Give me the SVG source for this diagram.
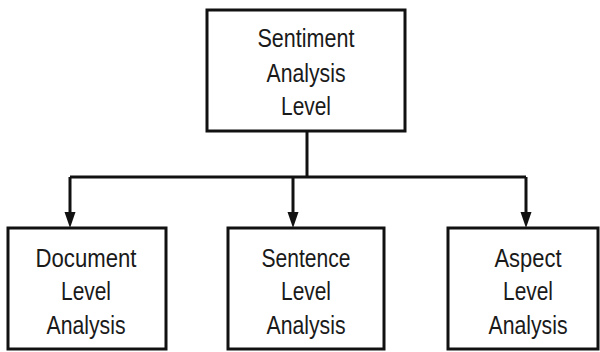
<svg xmlns="http://www.w3.org/2000/svg" width="600" height="352" viewBox="0 0 600 352">
<defs>
<style>
.box{fill:#fff;stroke:#111;stroke-width:3}
.conn{fill:none;stroke:#111;stroke-width:3}
text{font-family:"Liberation Sans",Arial,sans-serif;font-size:26px;fill:#1a1a1a;text-anchor:middle}
</style>
<marker id="arr" markerUnits="userSpaceOnUse" markerWidth="12" markerHeight="16" viewBox="0 0 12 16" refX="6" refY="16" orient="auto-start-reverse">
<path d="M0,0 L12,0 L6,16 Z" fill="#111" transform="rotate(0)"/>
</marker>
</defs>
<rect width="600" height="352" fill="#fff"/>
<g id="connectors">
<path class="conn" d="M307,131 V177"/>
<path class="conn" d="M70,177 H526"/>
<line class="conn" x1="70" y1="177" x2="70" y2="213"/>
<line class="conn" x1="293" y1="177" x2="293" y2="213"/>
<line class="conn" x1="526" y1="177" x2="526" y2="213"/>
<path d="M64.5,212 L75.5,212 L70,228 Z" fill="#111"/>
<path d="M287.5,212 L298.5,212 L293,228 Z" fill="#111"/>
<path d="M520.5,212 L531.5,212 L526,228 Z" fill="#111"/>
</g>
<g id="root">
<rect class="box" x="207" y="10" width="198" height="121"/>
<text x="306" y="47" textLength="97" lengthAdjust="spacingAndGlyphs">Sentiment</text>
<text x="306" y="82" textLength="79" lengthAdjust="spacingAndGlyphs">Analysis</text>
<text x="306" y="115" textLength="50" lengthAdjust="spacingAndGlyphs">Level</text>
</g>
<g id="document">
<rect class="box" x="8" y="228" width="158" height="121"/>
<text x="86" y="267" textLength="101" lengthAdjust="spacingAndGlyphs">Document</text>
<text x="86" y="300" textLength="50" lengthAdjust="spacingAndGlyphs">Level</text>
<text x="86" y="334" textLength="79" lengthAdjust="spacingAndGlyphs">Analysis</text>
</g>
<g id="sentence">
<rect class="box" x="228" y="228" width="156" height="121"/>
<text x="306" y="267" textLength="89" lengthAdjust="spacingAndGlyphs">Sentence</text>
<text x="306" y="300" textLength="50" lengthAdjust="spacingAndGlyphs">Level</text>
<text x="306" y="334" textLength="79" lengthAdjust="spacingAndGlyphs">Analysis</text>
</g>
<g id="aspect">
<rect class="box" x="448" y="228" width="150" height="121"/>
<text x="528" y="267" textLength="67" lengthAdjust="spacingAndGlyphs">Aspect</text>
<text x="528" y="300" textLength="50" lengthAdjust="spacingAndGlyphs">Level</text>
<text x="528" y="334" textLength="79" lengthAdjust="spacingAndGlyphs">Analysis</text>
</g>
</svg>
